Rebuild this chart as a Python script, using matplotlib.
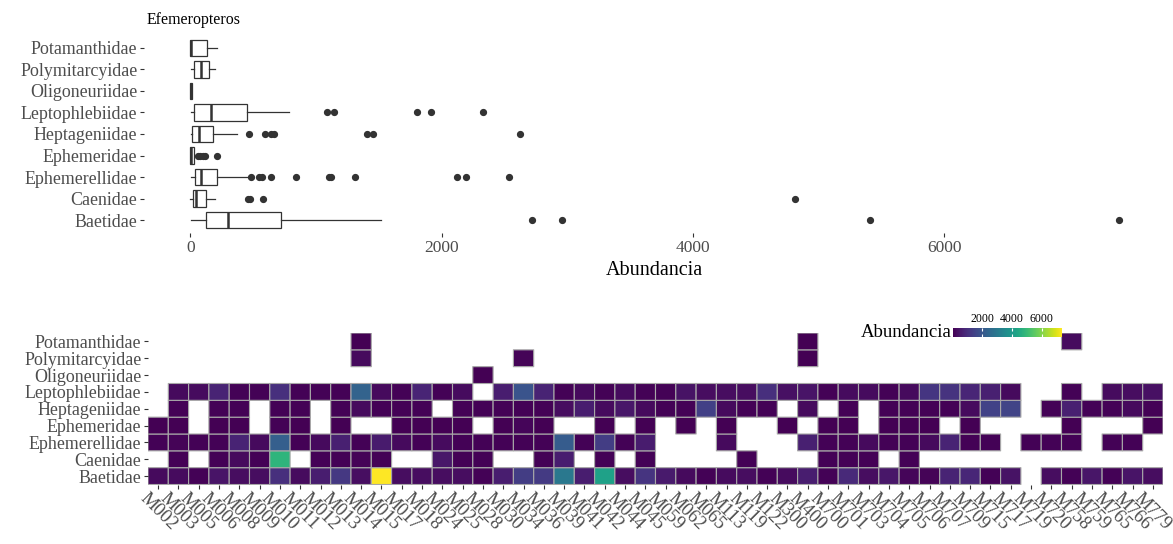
import numpy as np
import matplotlib
matplotlib.use("Agg")
import matplotlib.pyplot as plt
from matplotlib.colors import Normalize

plt.rcParams['font.family'] = ['Liberation Serif', 'DejaVu Serif']

# families, bottom to top
families = ['Baetidae', 'Caenidae', 'Ephemerellidae', 'Ephemeridae', 'Heptageniidae',
            'Leptophlebiidae', 'Oligoneuriidae', 'Polymitarcyidae', 'Potamanthidae']

# box statistics (Abundancia)
whislo = [6, 0, 2, 0, 3, 5, 0, 6, 0]
q1 = [127, 18, 36, 0, 12, 30, 0, 30, 0]
med = [296, 45, 88, 3, 66, 166, 3, 82, 4]
q3 = [725, 127, 211, 27, 181, 450, 10, 148, 136]
whishi = [1517, 193, 474, 30, 369, 782, 10, 193, 211]
fliers = [
    [2719, 2957, 5410, 7386],
    [459, 474, 580, 4810],
    [483, 550, 568, 640, 837, 1106, 1121, 1311, 2121, 2196, 2538],
    [57, 75, 97, 118, 208],
    [465, 592, 640, 665, 1405, 1456, 2622],
    [1088, 1142, 1804, 1918, 2332],
    [], [], [],
]

# sites (heatmap columns)
sites = ['M002', 'M003', 'M005', 'M006', 'M008', 'M009', 'M010', 'M011', 'M012', 'M013',
         'M014', 'M015', 'M017', 'M018', 'M024', 'M025', 'M028', 'M030', 'M034', 'M036',
         'M039', 'M041', 'M042', 'M044', 'M045', 'M059', 'M062', 'M065', 'M113', 'M119',
         'M122', 'M300', 'M400', 'M700', 'M701', 'M703', 'M704', 'M705', 'M706', 'M707',
         'M709', 'M715', 'M717', 'M719', 'M720', 'M758', 'M759', 'M765', 'M766', 'M779']

n = np.nan
baetidae = [200, 220, 40, 400, 250, 260, 1000, 230, 600, 1200,
            280, 7386, 260, 240, 260, 250, 40, 600, 1300, 1250,
            2957, 600, 4200, 260, 1100, 500, 200, 40, 220, 250,
            40, 230, 600, 40, 850, 250, 450, 100, 60, 700,
            800, 50, 350, n, 250, 40, 420, 40, 400, 250]
caenidae = [n, 40, n, 40, 200, 40, 4810, n, 40, 40,
            60, 40, n, n, 459, 40, 40, n, n, 40,
            580, n, 40, n, 40, n, n, n, n, 40,
            n, n, n, 40, 40, 40, n, 40, n, n,
            n, n, n, n, n, n, n, n, n, n]
ephemerellidae = [40, 60, 40, 40, 700, 200, 2200, 40, 200, 650,
                  40, 550, 200, 40, 220, 40, 40, 40, 40, 40,
                  2121, 40, 1311, 40, 560, n, n, n, 200, n,
                  n, n, 640, 40, 40, 200, 40, 40, 200, 700,
                  40, 40, n, 40, 40, 40, n, 40, 40, n]
ephemeridae = [10, 10, n, 10, 10, n, 57, 10, n, 10,
               n, n, 10, 10, 10, 10, n, 10, 97, 10,
               n, n, 10, n, 10, n, 10, n, 10, n,
               n, 10, n, 10, 10, n, 10, 10, 10, n,
               10, n, n, n, n, 10, n, n, n, 10]
heptageniidae = [n, 40, n, 40, 40, n, 40, 40, n, 40,
                 200, 40, 40, 40, n, 40, 40, 40, 40, 40,
                 250, 600, 230, 450, 200, 40, 40, 1405, 200, 40,
                 40, n, 200, n, 40, n, 40, 40, 40, 40,
                 220, 1456, 1500, n, 40, 640, 40, 40, 200, 40]
leptophlebiidae = [n, 200, 220, 700, 40, 40, 1000, 40, 40, 40,
                   2332, 200, 40, 750, 40, 220, n, 600, 1918, 700,
                   40, 200, 40, 220, 40, 40, 350, 250, 250, 250,
                   1000, 300, 400, 40, 220, 220, 40, 200, 1142, 1088,
                   780, 650, 200, n, n, 40, n, 220, 250, 300]
oligoneuriidae = [n] * 16 + [5] + [n] * 33
polymitarcyidae = [n] * 10 + [193] + [n] * 7 + [82] + [n] * 13 + [6] + [n] * 17
potamanthidae = [n] * 10 + [4] + [n] * 21 + [2] + [n] * 12 + [211] + [n] * 4

W, H = 1173, 544
fig = plt.figure(figsize=(W / 100, H / 100), dpi=100)
txt = '#4d4d4d'
tk = '#333333'

# ---- top panel: boxplot
ax1 = fig.add_axes([144 / W, 1 - 233 / H, 1021 / W, 198 / H])
stats = []
for i, fam in enumerate(families):
    stats.append(dict(label=fam, whislo=whislo[i], q1=q1[i], med=med[i], q3=q3[i],
                      whishi=whishi[i], fliers=fliers[i]))
ax1.bxp(stats, positions=np.arange(1, 10), widths=0.75, vert=False, patch_artist=True,
        showcaps=False,
        boxprops=dict(facecolor='white', edgecolor=tk, linewidth=0.9),
        medianprops=dict(color=tk, linewidth=1.8),
        whiskerprops=dict(color=tk, linewidth=0.9),
        flierprops=dict(marker='o', markerfacecolor=tk, markeredgecolor=tk, markersize=4.2))
ax1.set_xlim(-369, 7755)
ax1.set_ylim(0.4, 9.6)
ax1.set_xticks([0, 2000, 4000, 6000])
ax1.set_yticks(np.arange(1, 10))
ax1.set_yticklabels(families)
ax1.set_xlabel('Abundancia', fontsize=14.5, labelpad=4)
for s in ax1.spines.values():
    s.set_visible(False)
ax1.tick_params(axis='both', colors=tk, labelcolor=txt, length=2.75, width=0.8, pad=2)
ax1.tick_params(axis='y', labelsize=12.9)
ax1.tick_params(axis='x', labelsize=12.5)
fig.text(147 / W, 1 - 20 / H, 'Efemeropteros', fontsize=11.4, va='center', ha='left')

# ---- bottom panel: heatmap
rows = [baetidae, caenidae, ephemerellidae, ephemeridae, heptageniidae,
        leptophlebiidae, oligoneuriidae, polymitarcyidae, potamanthidae]
Z = np.ma.masked_invalid(np.array(rows, dtype=float))
norm = Normalize(vmin=np.nanmin(Z), vmax=np.nanmax(Z))
ax2 = fig.add_axes([148 / W, 1 - 484.5 / H, 1015 / W, 151.5 / H])
mesh = ax2.pcolor(np.arange(len(sites) + 1), np.arange(len(families) + 1), Z,
                  cmap='viridis', norm=norm, edgecolors='#a8a8a8', linewidth=0.8)
ax2.set_xlim(0, len(sites))
ax2.set_ylim(0, len(families))
ax2.set_xticks(np.arange(len(sites)) + 0.5)
ax2.set_xticklabels(sites, rotation=-45, ha='center', va='top')
ax2.set_yticks(np.arange(len(families)) + 0.5)
ax2.set_yticklabels(families)
for s in ax2.spines.values():
    s.set_visible(False)
ax2.tick_params(axis='both', colors=tk, labelcolor=txt, length=2.75, width=0.8, pad=2)
ax2.tick_params(axis='y', labelsize=12.9)
ax2.tick_params(axis='x', labelsize=13.5, pad=1)

# colour bar legend
cax = fig.add_axes([953 / W, 1 - 337 / H, 109 / W, 9 / H])
cb = fig.colorbar(mesh, cax=cax, orientation='horizontal')
cb.outline.set_visible(False)
cb.set_ticks([2000, 4000, 6000])
cax.tick_params(axis='x', top=True, bottom=True, labeltop=True, labelbottom=False,
                direction='in', colors='white', labelcolor='black', length=2,
                width=0.8, labelsize=8.5, pad=2)
fig.text(952 / W, 1 - 337 / H, 'Abundancia', fontsize=13.5, ha='right', va='baseline')

fig.savefig('out.png', dpi=100)
